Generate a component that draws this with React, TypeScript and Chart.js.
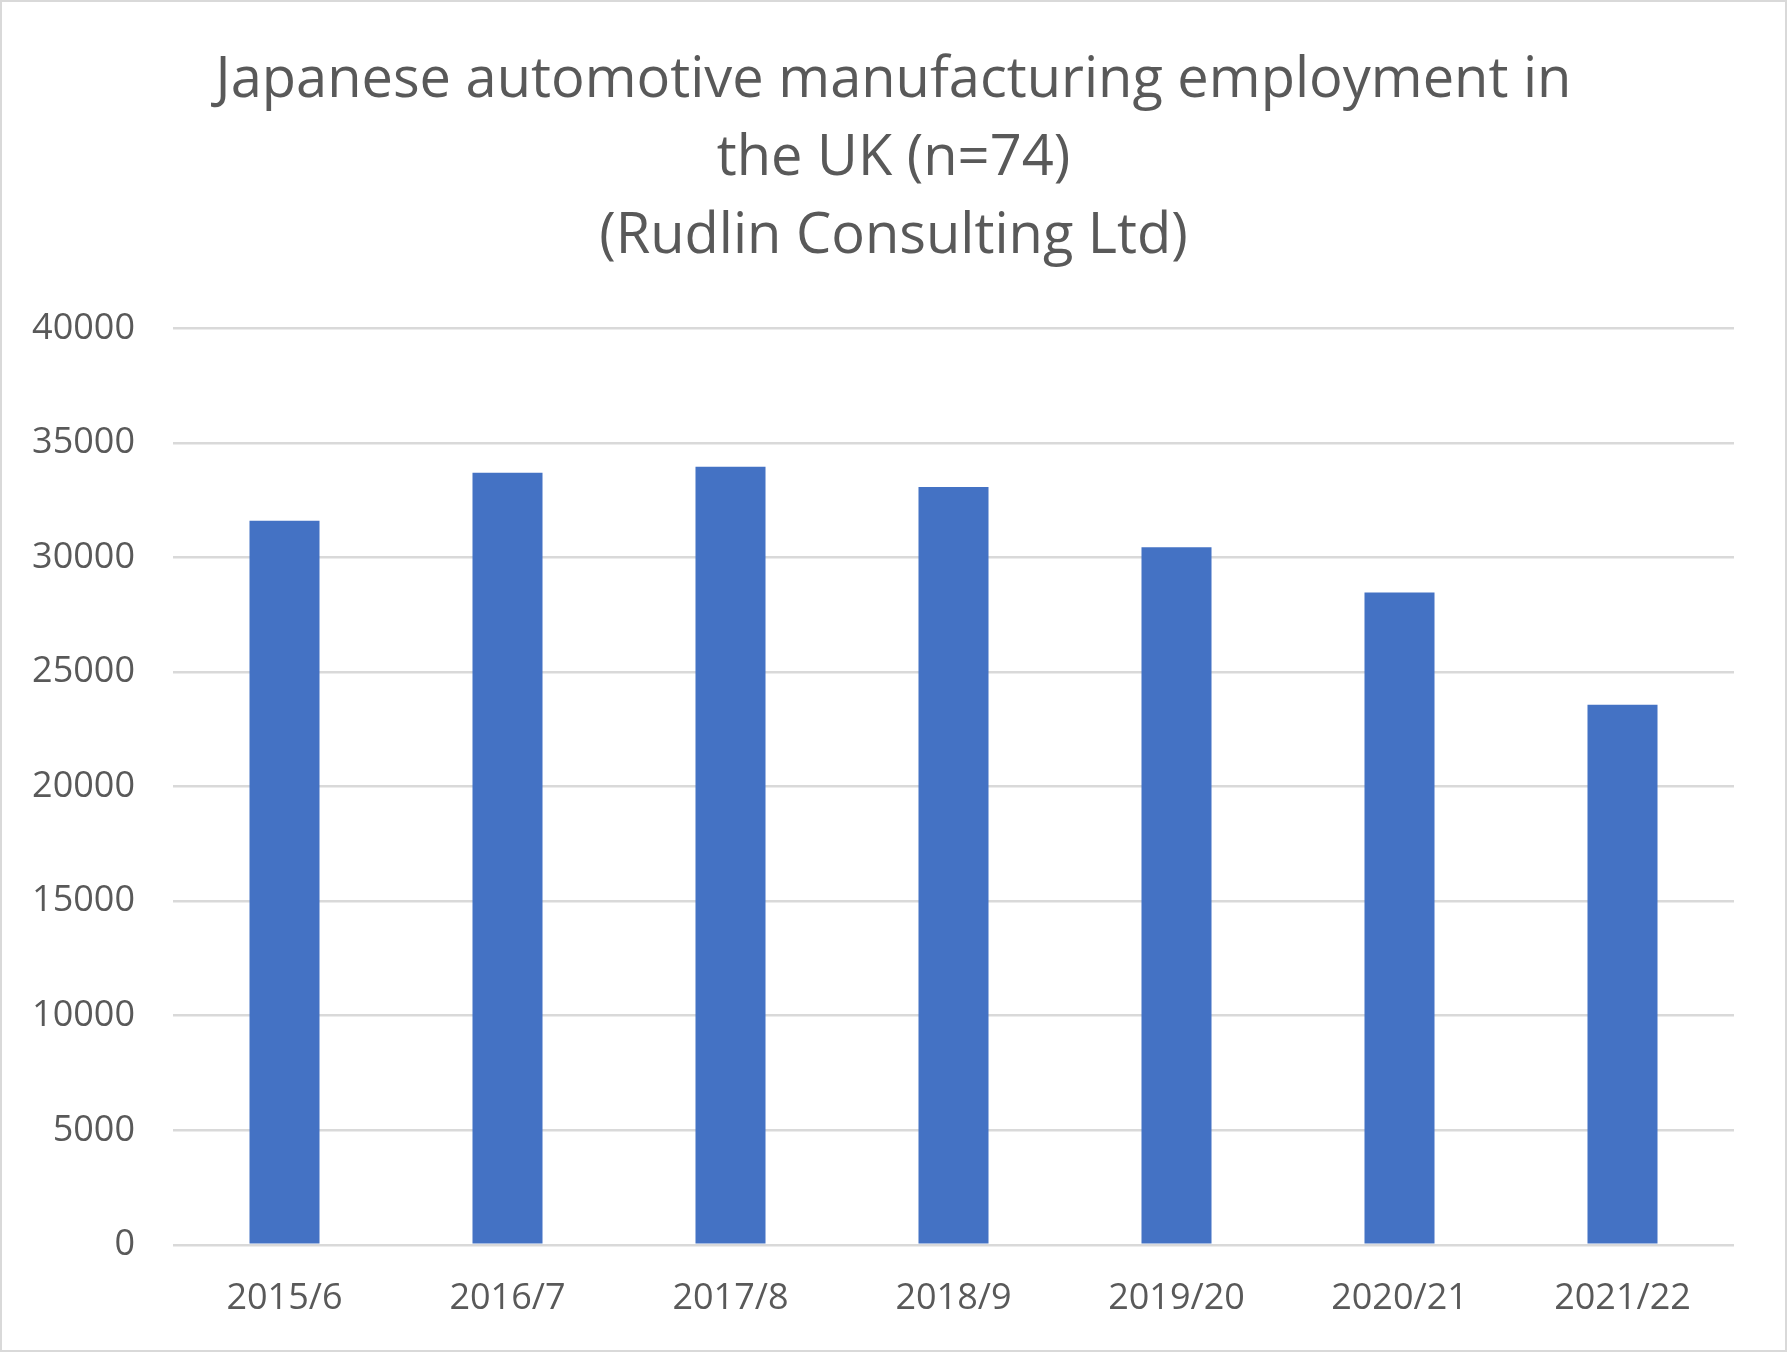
import { useEffect, useRef } from 'react';
import { Chart, registerables } from 'chart.js';

Chart.register(...registerables);

// chart data
const categories = ['2015/6', '2016/7', '2017/8', '2018/9', '2019/20', '2020/21', '2021/22'];
const employment = [31610, 33700, 33970, 33080, 30450, 28480, 23580];
const titleLines = [
  'Japanese automotive manufacturing employment in',
  'the UK (n=74)',
  '(Rudlin Consulting Ltd)',
];
const yTicks = { min: 0, max: 40000, step: 5000 };

const TEXT = '#595959';
const GRID = '#d9d9d9';
const FONT = "'Open Sans', sans-serif";

const EmploymentChart = () => {
  const canvasRef = useRef<HTMLCanvasElement>(null);
  const chartRef = useRef<Chart | null>(null);

  useEffect(() => {
    document.body.style.margin = '0';
    document.body.style.overflow = 'hidden';
    if (!canvasRef.current) return;

    chartRef.current = new Chart(canvasRef.current, {
      type: 'bar',
      data: {
        labels: categories,
        datasets: [
          {
            label: 'Employment',
            data: employment,
            backgroundColor: '#4472c4',
            categoryPercentage: 1,
            barPercentage: 0.314,
          },
        ],
      },
      options: {
        responsive: false,
        animation: false,
        devicePixelRatio: 1,
        layout: { padding: { top: 42, right: 0, bottom: 8, left: 0 } },
        plugins: {
          legend: { display: false },
          tooltip: { enabled: false },
          title: {
            display: true,
            text: titleLines,
            color: TEXT,
            font: { family: FONT, size: 56, weight: 'normal', lineHeight: 1.39 },
            padding: { top: 0, bottom: 53 },
          },
        },
        scales: {
          x: {
            grid: { display: false },
            border: { display: false },
            ticks: {
              color: TEXT,
              font: { family: FONT, size: 36 },
              padding: 24,
              maxRotation: 0,
            },
          },
          y: {
            min: yTicks.min,
            max: yTicks.max,
            afterFit: (scale) => {
              scale.width = 173;
            },
            grid: { color: GRID, lineWidth: 2.5, drawTicks: false },
            border: { display: false },
            ticks: {
              stepSize: yTicks.step,
              color: TEXT,
              font: { family: FONT, size: 36 },
              padding: 38,
              callback: (value) => String(value),
            },
          },
          // empty right-hand spacer so the title stays centred on the whole canvas
          spacer: {
            type: 'linear',
            position: 'right',
            grid: { display: false },
            border: { display: false },
            ticks: { display: false },
            afterFit: (scale) => {
              scale.width = 53;
            },
          },
        },
      },
    });

    return () => {
      if (chartRef.current) {
        chartRef.current.destroy();
        chartRef.current = null;
      }
    };
  }, []);

  return (
    <div style={{ position: 'relative', width: 1787, height: 1352, background: '#fff' }}>
      <canvas ref={canvasRef} width={1787} height={1352} />
      <div
        style={{
          position: 'absolute',
          inset: 0,
          border: `2px solid ${GRID}`,
          pointerEvents: 'none',
        }}
      />
    </div>
  );
};

export default function App() {
  return <EmploymentChart />;
}
